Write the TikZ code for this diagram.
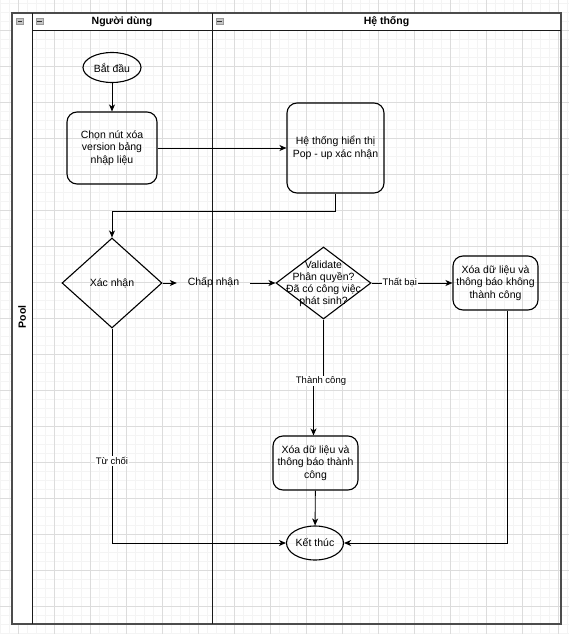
\documentclass[tikz,border=0pt]{standalone}
\usepackage{fontspec}
\setmainfont{Liberation Sans}
\usetikzlibrary{shapes.geometric,arrows.meta}
\definecolor{gridminor}{HTML}{F4F4F4}
\definecolor{gridmajor}{HTML}{DCDCDC}
\definecolor{lanecol}{HTML}{1A1A1A}
\tikzset{
  box/.style={draw, line width=1.1pt, rounded corners=10pt, align=center, inner sep=2pt, font=\fontsize{10.5}{12.5}\selectfont},
  oval/.style={draw, line width=1.1pt, ellipse, inner sep=0pt, font=\fontsize{10.5}{12.5}\selectfont},
  decision/.style={draw, line width=1.1pt, diamond, inner sep=0pt, align=center, font=\fontsize{10.5}{12.5}\selectfont},
  plain/.style={inner sep=0pt, align=center, font=\fontsize{10.5}{12.5}\selectfont},
  edgelabel/.style={fill=white, inner sep=1pt, font=\fontsize{9.5}{11}\selectfont},
  flow/.style={line width=0.9pt, -{Stealth[length=7pt,width=6pt,inset=2pt]}},
  lane/.style={line width=1pt, draw=lanecol},
  hdr/.style={font=\bfseries\fontsize{10.5}{12.5}\selectfont},
  minus/.style={draw=gray!80, fill=gray!45, line width=0.5pt, minimum width=7pt, minimum height=6pt, inner sep=0pt}
}
\begin{document}
\begin{tikzpicture}[x=1pt,y=-1pt]
\useasboundingbox (0,0) rectangle (569,634);
\fill[white] (0,0) rectangle (569,634);
% grid
\foreach \i in {0,9,...,567} {\draw[gridminor, line width=0.8pt] (\i,0) -- (\i,634);}
\foreach \j in {3,12,...,633} {\draw[gridminor, line width=0.8pt] (0,\j) -- (569,\j);}
\foreach \i in {18,54,...,567} {\draw[gridmajor, line width=0.8pt] (\i,0) -- (\i,634);}
\foreach \j in {30,66,...,633} {\draw[gridmajor, line width=0.8pt] (0,\j) -- (569,\j);}
% pool
\fill[white] (12,13) rectangle (32,624);
\fill[white] (32,13) rectangle (561,31);
\draw[line width=1.3pt, draw=black!70] (12,13) rectangle (561,624);
\draw[lane] (32,13) -- (32,624);
\draw[lane] (212,13) -- (212,624);
\draw[lane] (32,31) -- (561,31);
\node[hdr, rotate=90] (pooltitle) at (22,317) {Pool};
\node[hdr] (lane1title) at (122,21.5) {Người dùng};
\node[hdr] (lane2title) at (386.5,21.5) {Hệ thống};
\node[minus] (m0) at (20,21) {};
\node[minus] (m1) at (39.5,21) {};
\node[minus] (m2) at (219.5,21) {};
\draw[black!80, line width=0.8pt] ([xshift=-2.2pt]m0.center) -- ([xshift=2.2pt]m0.center);
\draw[black!80, line width=0.8pt] ([xshift=-2.2pt]m1.center) -- ([xshift=2.2pt]m1.center);
\draw[black!80, line width=0.8pt] ([xshift=-2.2pt]m2.center) -- ([xshift=2.2pt]m2.center);
% nodes
\node[oval, minimum width=58pt, minimum height=30pt] (start) at (112,67.5) {Bắt đầu};
\node[box, minimum width=90pt, minimum height=72pt] (choose) at (112,148) {Chọn nút xóa\\version bảng\\nhập liệu};
\node[box, minimum width=97pt, minimum height=90pt] (show) at (335.5,148) {Hệ thống hiển thị\\Pop - up xác nhận};
\node[decision, minimum width=100pt, minimum height=90pt] (confirm) at (112,283) {Xác nhận};
\node[plain, minimum width=73pt, minimum height=12pt] (accept) at (213.5,283) {Chấp nhận};
\node[decision, minimum width=95pt, minimum height=72pt] (validate) at (323.5,283) {};
\node[plain, font=\fontsize{10.5}{12}\selectfont] (validatetext) at (323.5,284) {Validate\\Phân quyền?\\Đã có công việc\\phát sinh?};
\node[box, minimum width=85pt, minimum height=54pt] (fail) at (495.5,283) {Xóa dữ liệu và\\thông báo không\\thành công};
\node[box, minimum width=85pt, minimum height=54pt] (success) at (315.5,463) {Xóa dữ liệu và\\thông báo thành\\công};
\node[oval, minimum width=57pt, minimum height=34pt] (end) at (315,543) {Kết thúc};
% edges
\draw[flow] (start) -- (choose);
\draw[flow] (choose) -- (show);
\draw[flow] (show.south) -- ++(0,18) -| (confirm.north);
\draw[flow] (confirm.east) -- (accept.west);
\draw[flow] (accept.east) -- (validate.west);
\draw[flow] (validate.east) -- node[edgelabel, pos=0.35] (faillabel) {Thất bại} (fail.west);
\draw[flow] (validate.south) -- ++(0,62) -| ([xshift=-2pt]success.north);
\node[edgelabel] (oklabel) at (321,381) {Thành công};
\draw[flow] (success) -- (end);
\draw[flow] ([xshift=11.5pt]fail.south) |- (end.east);
\draw[flow] (confirm.south) |- (end.west);
\node[edgelabel] (rejlabel) at (112,461) {Từ chối};
\end{tikzpicture}
\end{document}
